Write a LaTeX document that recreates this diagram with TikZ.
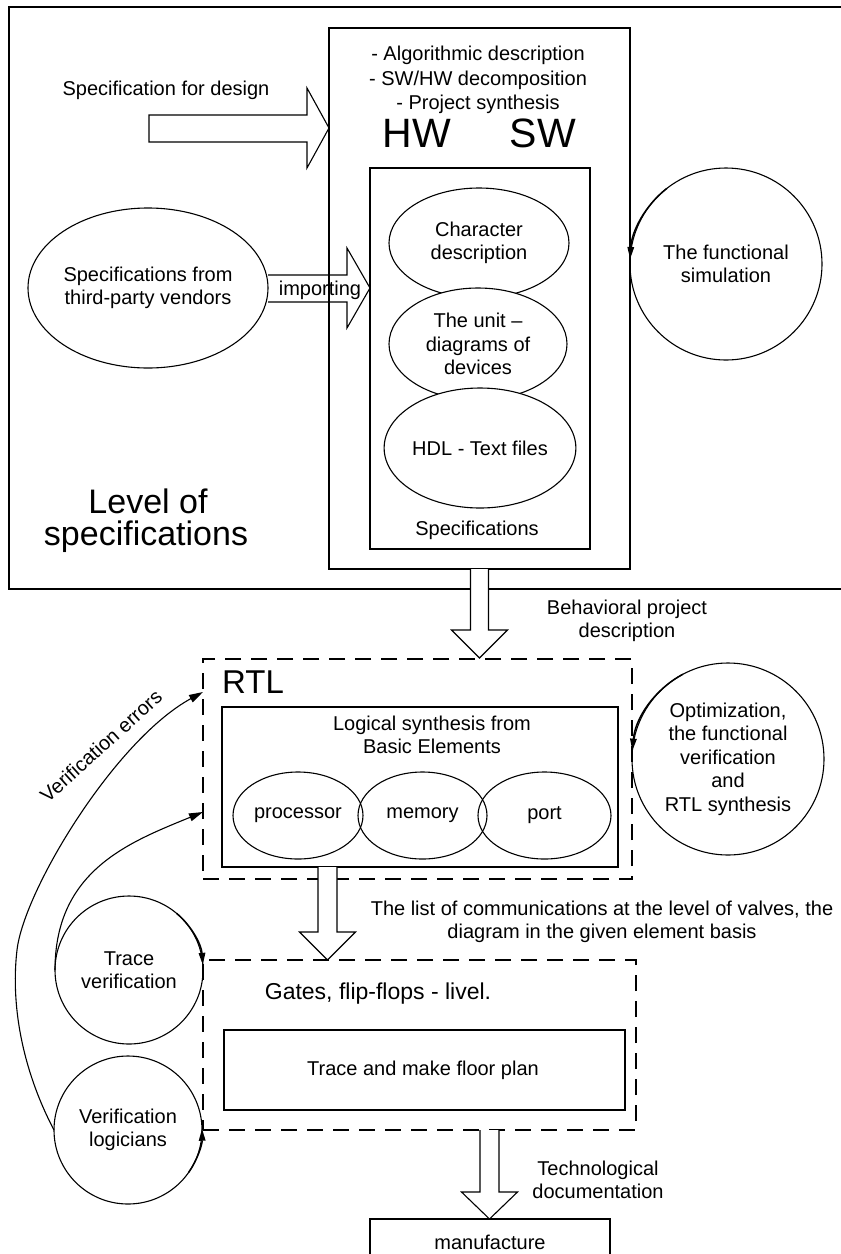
\documentclass[tikz,border=0pt]{standalone}
\usepackage{fontspec}
\setmainfont{Liberation Sans}
\usetikzlibrary{shapes.geometric,arrows.meta}
\begin{document}
\begin{tikzpicture}[x=1pt,y=1pt,
  every node/.style={inner sep=0pt, outer sep=0pt},
  lw/.style={line width=1.1pt},
  t20/.style={font=\fontsize{20}{23.5}\selectfont, align=center},
  box/.style={draw, lw, rectangle, anchor=north west},
  dbox/.style={draw, lw, rectangle, anchor=north west, dash pattern=on 16pt off 10pt},
  ell/.style={draw, lw, ellipse, t20},
  circ/.style={draw, lw, circle, t20},
  blk/.style={draw, lw, fill=white, line join=miter},
  arrowtip/.style={-{Triangle[length=12pt,width=6.5pt]}},
  arrowtipb/.style={-{Triangle[length=14pt,width=8pt]}},
]
\useasboundingbox (0,0) rectangle (841,-1254);
\fill[white] (0,0) rectangle (841,-1254);
\clip (0,0) rectangle (841,-1254);

% ---------- level of specifications ----------
\node[box, minimum width=850, minimum height=582] (outer) at (9,-7) {};
\node[box, minimum width=301, minimum height=541] (spec) at (329,-28) {};
\node[box, minimum width=220, minimum height=381] (specs) at (370,-168) {};

\node[t20, font=\fontsize{20}{24.5}\selectfont] (bul) at (478,-80)
  {- Algorithmic description\\- SW/HW decomposition\\- Project synthesis};
\node[font=\fontsize{41}{41}\selectfont] (hw) at (417,-133) {HW};
\node[font=\fontsize{41}{41}\selectfont] (sw) at (543,-133) {SW};

\node[ell, fill=white, minimum width=180, minimum height=110] (chr) at (479,-243) {Character\\description};
\node[ell, fill=white, minimum width=178, minimum height=112] (unit) at (478,-344) {The unit \textendash\\diagrams of\\devices};
\node[ell, fill=white, minimum width=180, minimum height=120] (hdl) at (480,-448) {HDL - Text files};
\node[t20] (specl) at (477,-530) {Specifications};

\node[t20] (sfd) at (166,-90) {Specification for design};
\draw[blk] (149,-115) -- (307,-115) -- (307,-88) -- (spec.west |- 0,-128) -- (307,-168) -- (307,-142) -- (149,-142) -- cycle;

\node[ell, minimum width=240, minimum height=160] (third) at (148,-288) {Specifications from\\third-party vendors};
\draw[lw, line join=miter] (third.east |- 0,-275) -- (347,-275) -- (347,-248) -- (specs.west |- 0,-288) -- (347,-328) -- (347,-302) -- (third.east |- 0,-302);
\node[t20] (imp) at (320,-290) {importing};

\node[circ, minimum size=192] (fs) at (726,-264) {The functional\\simulation};
\draw[line width=1.5pt, arrowtip] (fs.center) ++(128:96) arc[start angle=128, end angle=177, radius=96];

\node[font=\fontsize{34}{34}\selectfont, anchor=base] (lvl1) at (148,-513) {Level of};
\node[font=\fontsize{34}{34}\selectfont, anchor=base] (lvl2) at (146,-545) {specifications};

% ---------- behavioral arrow ----------
\draw[blk] ([xshift=-9pt]spec.south) -- ++(0,-61) -- ++(-19,0) -- ++(28,-28) -- ++(28,28) -- ++(-19,0) -- ([xshift=9pt]spec.south);
\node[t20] (beh) at (627,-621) {Behavioral project\\description};

% ---------- RTL ----------
\node[dbox, minimum width=429, minimum height=220] (rtl) at (203,-659) {};
\node[font=\fontsize{33}{33}\selectfont] (rtlt) at (253,-682) {RTL};
\node[box, minimum width=396, minimum height=160] (logic) at (222,-707) {};
\node[t20] (logt) at (432,-735) {Logical synthesis from\\Basic Elements};
\node[ell, minimum width=130, minimum height=87] (proc) at (298,-815.5) {processor};
\node[ell, minimum width=129, minimum height=87] (mem) at (422.5,-815.5) {memory};
\node[ell, minimum width=133, minimum height=87] (port) at (544.5,-815.5) {port};

\node[circ, minimum size=192] (opt) at (728,-759) {Optimization,\\the functional\\verification\\and\\RTL synthesis};
\draw[line width=1.5pt, arrowtip] (opt.center) ++(118:96) arc[start angle=118, end angle=175, radius=96];

% ---------- list arrow ----------
\draw[blk] (318,-867) -- (318,-932) -- (299.5,-932) -- (327.5,-960) -- (355.5,-932) -- (337,-932) -- (337,-867);
\node[t20] (lst) at (602,-922) {The list of communications at the level of valves, the\\diagram in the given element basis};

% ---------- gates ----------
\node[dbox, minimum width=433, minimum height=170] (gates) at (203,-960) {};
\node[font=\fontsize{23}{23}\selectfont] (gt) at (378,-994) {Gates, flip-flops - livel.};
\node[box, minimum width=401, minimum height=80] (trace) at (224,-1030) {};
\node[t20] (tracet) at (423,-1070) {Trace and make floor plan};

\draw[blk] (480,-1130) -- (480,-1192) -- (461.5,-1192) -- (489.5,-1219) -- (517.5,-1192) -- (499,-1192) -- (499,-1130);
\node[t20] (tech) at (598,-1180) {Technological\\documentation};

\node[box, minimum width=240, minimum height=80] (manu) at (370,-1219) {};
\node[t20] (manut) at (490,-1242) {manufacture};

% ---------- verification circles ----------
\node[circ, minimum size=148] (tv) at (129,-970) {Trace\\verification};
\draw[line width=1.5pt, arrowtip] (tv.center) ++(50:74) arc[start angle=50, end angle=4, radius=74];
\node[circ, minimum size=148] (vl) at (128,-1130) {Verification\\logicians};
\draw[line width=1.5pt, arrowtip] (vl.center) ++(-35:74) arc[start angle=-35, end angle=1, radius=74];

\coordinate (rtlA) at (203,-812);
\coordinate (rtlB) at (203,-692);
\draw[lw, arrowtipb] (tv.west) .. controls (55,-870) and (130,-842) .. (rtlA);
\draw[lw, arrowtipb] (vl.west) .. controls (25,-1075) and (10,-1010) .. (17,-950) .. controls (24,-890) and (115,-740) .. (rtlB);
\node[t20, rotate=42] (verr) at (101,-746) {Verification errors};
\end{tikzpicture}
\end{document}
